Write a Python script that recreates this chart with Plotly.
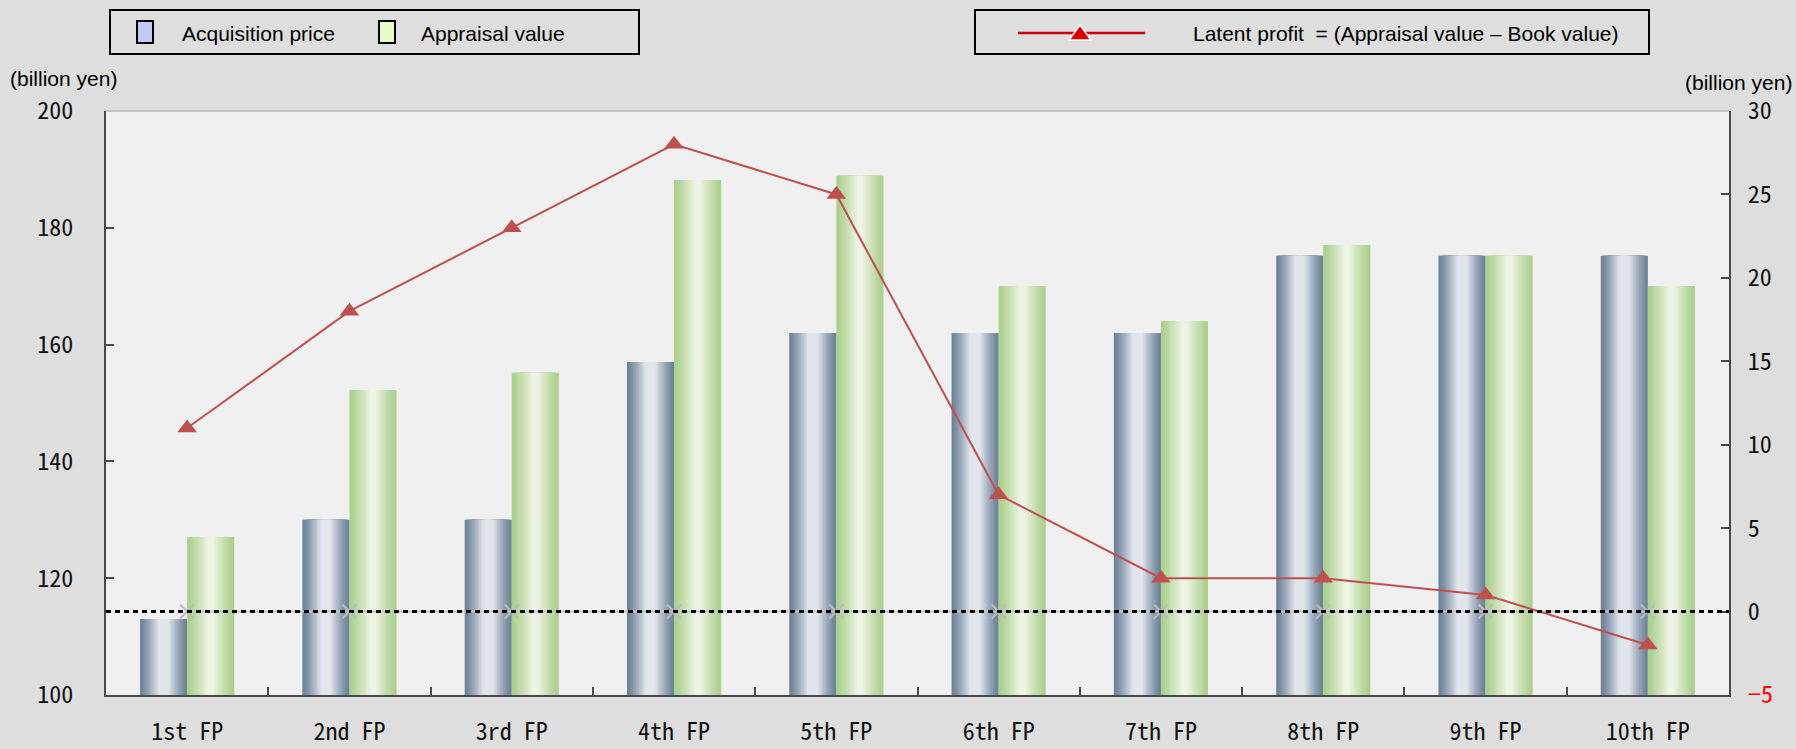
import plotly.graph_objects as go

# ---- data -------------------------------------------------------------
periods = ["1st FP", "2nd FP", "3rd FP", "4th FP", "5th FP",
           "6th FP", "7th FP", "8th FP", "9th FP", "10th FP"]
acquisition_price = [113, 130, 130, 157, 162, 162, 162, 175.2, 175.2, 175.2]
appraisal_value = [127, 152.2, 155.2, 188.2, 188.9, 170, 164, 177, 175.2, 170]
latent_profit = [11, 18, 23, 28, 25, 7, 2, 2, 1, -2]
zero_ref = [0] * len(periods)

left_ticks = [100, 120, 140, 160, 180, 200]
right_ticks = [-5, 0, 5, 10, 15, 20, 25, 30]

# ---- geometry / style ---------------------------------------------------
W, H = 1796, 749
ML, MR, MT, MB = 106, 67, 111, 54
PW, PH = W - ML - MR, H - MT - MB

PAPER_BG = "#dedede"
PLOT_BG = "#f0f0f0"
AXIS_COL = "#4a4a4a"
LINE_RED = "#c0504d"
TICK_FONT = "Noto Sans Mono CJK JP, Noto Sans CJK JP, monospace"
TEXT_FONT = "Liberation Sans, Arial, sans-serif"

BAR_W = 0.29
LEVELS = 16


def px(x):
    return (x - ML) / PW


def py(y):
    return (H - MB - y) / PH


def hex2rgb(h):
    h = h.lstrip("#")
    return tuple(int(h[i:i + 2], 16) for i in (0, 2, 4))


def mix(c1, c2, f):
    a, b = hex2rgb(c1), hex2rgb(c2)
    return "rgb(%d,%d,%d)" % tuple(round(a[i] + (b[i] - a[i]) * f) for i in range(3))


def ramp(t, reach, power):
    u = min(max(t / reach, 0.0), 1.0)
    return u ** power


fig = go.Figure()


def gradient_bar(values, center_off, dark, light, reach, power, name):
    """Cylinder-like shading: nested bars, each narrower one a bit lighter."""
    for k in range(LEVELS):
        frac = 1 - k / LEVELS
        w = BAR_W * frac
        t_mid = (k + 0.5) / (2 * LEVELS)
        fig.add_trace(go.Bar(
            x=periods, y=[v - 100 for v in values], base=100,
            width=w, offset=center_off - w / 2,
            marker=dict(color=mix(dark, light, ramp(t_mid, reach, power)),
                        line=dict(width=0)),
            name=name, showlegend=False, hoverinfo="skip",
        ))


gradient_bar(acquisition_price, -BAR_W / 2, "#6a8097", "#e1e6ec", 0.40, 1.25,
             "Acquisition price")
gradient_bar(appraisal_value, BAR_W / 2, "#aacf88", "#eef5e6", 0.46, 1.2,
             "Appraisal value")

# zero reference series on the right axis
fig.add_trace(go.Scatter(
    x=periods, y=zero_ref, yaxis="y2", mode="lines+markers",
    line=dict(color="#c4c4c4", width=2),
    marker=dict(symbol="x-thin", size=14,
                line=dict(color="#bcbcbc", width=2)),
    showlegend=False, hoverinfo="skip",
))

# latent profit line
fig.add_trace(go.Scatter(
    x=periods, y=latent_profit, yaxis="y2", mode="lines+markers",
    line=dict(color=LINE_RED, width=2),
    marker=dict(symbol="triangle-up", size=17, color=LINE_RED),
    name="Latent profit", showlegend=False,
))

right_text = [("<span style='color:#ff0000'>\u2212%d</span>" % -v) if v < 0 else str(v)
              for v in right_ticks]

fig.update_layout(
    width=W, height=H,
    margin=dict(l=ML, r=MR, t=MT, b=MB),
    paper_bgcolor=PAPER_BG, plot_bgcolor=PLOT_BG,
    barmode="overlay",
    showlegend=False,
    xaxis=dict(
        type="category", range=[-0.5, len(periods) - 0.5], automargin=False,
        showgrid=False, showline=True, linecolor=AXIS_COL, linewidth=2,
        ticks="inside", ticklen=8, tickcolor=AXIS_COL, tickwidth=1.5,
        tickson="boundaries", ticklabelstandoff=14,
        tickfont=dict(family=TICK_FONT, size=24, color="#111111"),
    ),
    yaxis=dict(
        range=[100, 200], tickvals=left_ticks, automargin=False,
        showgrid=False, zeroline=False,
        showline=True, linecolor=AXIS_COL, linewidth=2,
        ticks="inside", ticklen=8, tickcolor=AXIS_COL, tickwidth=1.5,
        ticklabelstandoff=26,
        tickfont=dict(family=TICK_FONT, size=24, color="#111111"),
    ),
    yaxis2=dict(
        overlaying="y", side="right", range=[-5, 30], automargin=False,
        tickvals=right_ticks, ticktext=right_text,
        showgrid=False, zeroline=False,
        showline=True, linecolor=AXIS_COL, linewidth=2,
        ticks="inside", ticklen=8, tickcolor=AXIS_COL, tickwidth=1.5,
        ticklabelstandoff=12,
        tickfont=dict(family=TICK_FONT, size=24, color="#111111"),
    ),
)

shapes = []
# light top border of the plot frame
shapes.append(dict(type="line", xref="paper", yref="paper", x0=0, x1=1, y0=1, y1=1,
                   line=dict(color="#c4c4c4", width=2)))
# dotted zero line across the full plot width
shapes.append(dict(type="line", xref="paper", yref="y2", x0=0, x1=1, y0=0, y1=0,
                   line=dict(color="#000000", width=3, dash="5px,4px"), layer="above"))

# legend boxes
for x0, x1 in ((110, 639), (975, 1649)):
    shapes.append(dict(type="rect", xref="paper", yref="paper",
                       x0=px(x0), x1=px(x1), y0=py(54), y1=py(10),
                       line=dict(color="#000000", width=2), fillcolor=PAPER_BG))
# bar legend swatches
for x0, fill in ((137, "#c4c8f4"), (379, "#e4fbc8")):
    shapes.append(dict(type="rect", xref="paper", yref="paper",
                       x0=px(x0), x1=px(x0 + 16), y0=py(43), y1=py(21),
                       line=dict(color="#000000", width=2), fillcolor=fill))
# line legend swatch
shapes.append(dict(type="line", xref="paper", yref="paper",
                   x0=px(1018), x1=px(1145), y0=py(33), y1=py(33),
                   line=dict(color="#cc0000", width=2.5)))
tri = "M %f %f L %f %f L %f %f Z" % (px(1069), py(40), px(1091), py(40), px(1080), py(25))
shapes.append(dict(type="path", xref="paper", yref="paper", path=tri,
                   fillcolor="#dd0000", line=dict(color="#ffffff", width=1.5)))

annotations = [
    dict(text="Acquisition price", xref="paper", yref="paper", x=px(180), y=py(33),
         xanchor="left", yanchor="middle", showarrow=False,
         font=dict(family=TEXT_FONT, size=21, color="#000000")),
    dict(text="Appraisal value", xref="paper", yref="paper", x=px(419), y=py(33),
         xanchor="left", yanchor="middle", showarrow=False,
         font=dict(family=TEXT_FONT, size=21, color="#000000")),
    dict(text="Latent profit  = (Appraisal value \u2013 Book value)", xref="paper", yref="paper",
         x=px(1191), y=py(33), xanchor="left", yanchor="middle", showarrow=False,
         font=dict(family=TEXT_FONT, size=21, color="#000000")),
    dict(text="(billion yen)", xref="paper", yref="paper", x=px(8), y=py(78),
         xanchor="left", yanchor="middle", showarrow=False,
         font=dict(family=TEXT_FONT, size=21, color="#000000")),
    dict(text="(billion yen)", xref="paper", yref="paper", x=px(1794), y=py(82),
         xanchor="right", yanchor="middle", showarrow=False,
         font=dict(family=TEXT_FONT, size=21, color="#000000")),
]

fig.update_layout(shapes=shapes, annotations=annotations)

fig.write_html("out.html")
